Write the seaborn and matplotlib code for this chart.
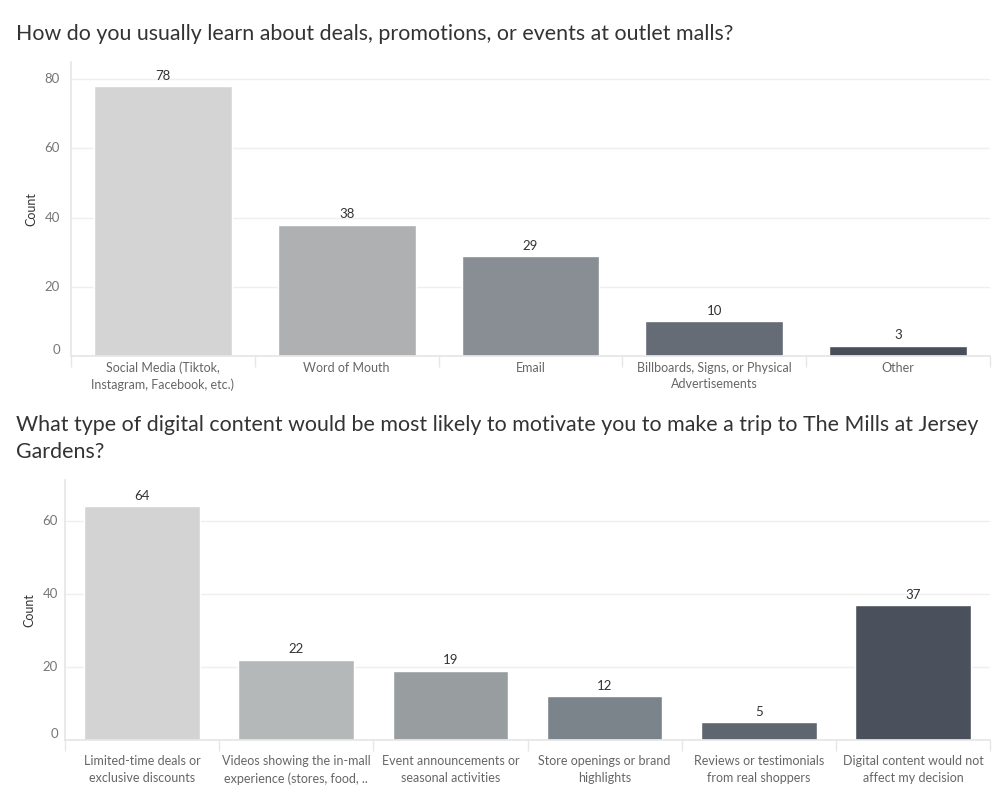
import pandas as pd
import seaborn as sns
import matplotlib.pyplot as plt

sns.set_theme(style='white')
plt.rcParams['font.family'] = ['Lato', 'DejaVu Sans']

# Question 1 data
q1_title = 'How do you usually learn about deals, promotions, or events at outlet malls?'
q1_labels = ['Social Media (Tiktok,\nInstagram, Facebook, etc.)', 'Word of Mouth', 'Email',
             'Billboards, Signs, or Physical\nAdvertisements', 'Other']
q1_counts = [78, 38, 29, 10, 3]
q1_colors = ['#d4d4d4', '#aeb0b1', '#898e94', '#656c75', '#494f5a']

# Question 2 data
q2_title = ('What type of digital content would be most likely to motivate you to make a trip to The Mills at Jersey\n'
            'Gardens?')
q2_labels = ['Limited-time deals or\nexclusive discounts', 'Videos showing the in-mall\nexperience (stores, food, ..',
             'Event announcements or\nseasonal activities', 'Store openings or brand\nhighlights',
             'Reviews or testimonials\nfrom real shoppers', 'Digital content would not\naffect my decision']
q2_counts = [64, 22, 19, 12, 5, 37]
q2_colors = ['#d3d3d3', '#b5b8b9', '#989e9f', '#7b848a', '#5f6670', '#4a505c']


def draw(ax, labels, counts, colors, ymax, yticks, xpad, ypad):
    df = pd.DataFrame({'cat': labels, 'n': counts})
    sns.barplot(data=df, x='cat', y='n', hue='cat', palette=colors, legend=False,
                width=0.75, saturation=1, ax=ax)
    for c in ax.containers:
        ax.bar_label(c, padding=3, fontsize=9.5, color='#333333')
    ax.set_ylim(0, ymax)
    ax.set_xlim(-0.5, len(labels) - 0.5)
    ax.set_yticks(yticks)
    ax.set_yticklabels([str(t) for t in yticks], va='center')
    ax.get_yticklabels()[0].set_va('bottom')
    ax.tick_params(axis='y', length=0, pad=ypad, labelsize=9.5, labelcolor='#777777')
    ax.tick_params(axis='x', which='major', length=0, pad=xpad, labelsize=9, labelcolor='#666666')
    for t in ax.get_xticklabels():
        t.set_linespacing(1.45)
    ax.set_xticks([i + 0.5 for i in range(-1, len(labels))], minor=True)
    ax.tick_params(axis='x', which='minor', length=8, color='#e6e6e6', width=1, bottom=True)
    ax.yaxis.grid(True, color='#efefef', linewidth=1)
    ax.set_axisbelow(True)
    for s in ['top', 'right']:
        ax.spines[s].set_visible(False)
    for s in ['left', 'bottom']:
        ax.spines[s].set_color('#e6e6e6')
    ax.set_xlabel('')
    ax.set_ylabel('Count', fontsize=9, color='#333333', labelpad=5)


fig = plt.figure(figsize=(10, 8), dpi=100)
ax1 = fig.add_axes([0.071, 0.555, 0.919, 0.3675])
ax2 = fig.add_axes([0.065, 0.075, 0.925, 0.325])

draw(ax1, q1_labels, q1_counts, q1_colors, 85, [0, 20, 40, 60, 80], 4, 8)
draw(ax2, q2_labels, q2_counts, q2_colors, 71.2, [0, 20, 40, 60], 11, 5)

fig.text(0.016, 0.958, q1_title, fontsize=15.4, color='#333333', va='center')
fig.text(0.016, 0.4515, q2_title, fontsize=15.4, color='#333333', va='center', linespacing=1.43)

fig.savefig('out.png', dpi=100, facecolor='white')
